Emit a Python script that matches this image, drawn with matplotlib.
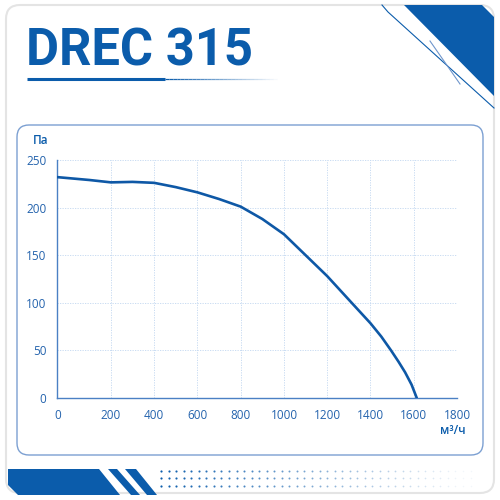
import matplotlib.pyplot as plt
import numpy as np
from matplotlib.patches import FancyBboxPatch, Polygon

# fan curve (x in m3/h, y in Pa)
flow = [-48, 100, 200, 300, 400, 500, 600, 700, 800, 900, 1000,
        1100, 1200, 1313, 1400, 1450, 1495, 1530, 1560, 1590, 1614]
pressure = [232, 229, 226.5, 227, 226, 221.5, 216, 209, 201, 188, 172,
            150, 128, 100, 78.5, 64.5, 50, 38, 27, 14, 0]

x_ticks = [-48, 200, 400, 600, 800, 1000, 1200, 1400, 1600, 1800]
x_labels = ['0', '200', '400', '600', '800', '1000', '1200', '1400', '1600', '1800']
y_ticks = [0, 50, 100, 150, 200, 250]

blue = '#0b5cab'
grid_blue = '#c2d7f0'
axis_blue = '#4b80c4'
label_blue = '#2463ad'

fig = plt.figure(figsize=(5, 5), dpi=100)
fig.patch.set_facecolor('white')

# decoration layer in pixel coordinates
deco = fig.add_axes([0, 0, 1, 1])
deco.set_xlim(0, 500)
deco.set_ylim(500, 0)
deco.axis('off')

card = FancyBboxPatch((6, 5), 488, 488, boxstyle='round,pad=0,rounding_size=14',
                      fc='white', ec='#e4e4e4', lw=1.5)
deco.add_patch(card)

inner = FancyBboxPatch((17, 125), 466, 330, boxstyle='round,pad=0,rounding_size=12',
                       fc='white', ec='#7ca0d2', lw=1.0)
deco.add_patch(inner)

# top right triangle and lines
deco.add_patch(Polygon([(404, 5), (482, 5), (494, 17), (494, 96)], closed=True,
                       fc=blue, ec='none'))
deco.plot([382, 388, 494], [5, 12, 108], color=blue, lw=0.8)
deco.plot([430, 460], [41, 84], color='#6f96cc', lw=0.8)

# bottom left shape and stripes
deco.add_patch(Polygon([(8, 469), (99, 469), (120, 495), (18, 495), (8, 485)],
                       closed=True, fc=blue, ec='none'))
deco.add_patch(Polygon([(108, 469), (117, 469), (140, 495), (131, 495)],
                       closed=True, fc=blue, ec='none'))
deco.add_patch(Polygon([(125, 469), (136, 469), (157, 495), (147, 495)],
                       closed=True, fc=blue, ec='none'))

# fading dot rows
n_dots = 42
dx = np.arange(n_dots) * 7.55 + 161
for row_y in [470.7, 478.3, 486]:
    for i, xx in enumerate(dx):
        a = max(0.05, 1 - i / n_dots)
        deco.scatter(xx, row_y, s=2.5 * (0.5 + 0.5 * a), color=blue, alpha=a, lw=0)

# title and underline
deco.text(26, 65, 'DREC 315', fontsize=36.5, fontweight='bold', family='Roboto',
          color=blue, va='baseline', ha='left')
deco.plot([27, 165], [79.3, 79.3], color=blue, lw=2.2, solid_capstyle='butt')
xs = np.linspace(165, 277, 30)
for i in range(len(xs) - 1):
    deco.plot(xs[i:i + 2], [79.3, 79.3], color=blue, lw=0.9,
              alpha=1 - i / (len(xs) - 1), solid_capstyle='butt')

deco.text(33, 141, 'Па', fontsize=8.5, color=blue, family='Open Sans',
          fontweight='semibold', va='center', ha='left')
deco.text(466, 431, 'м³/ч', fontsize=8.5, color=blue, family='Open Sans',
          fontweight='semibold', va='center', ha='right')

# main chart
ax = fig.add_axes([57.3 / 500, 1 - 398 / 500, (457 - 57.3) / 500, (398 - 160) / 500])
ax.set_facecolor('none')
ax.plot(flow, pressure, color='#0e58a6', lw=1.9, solid_capstyle='round',
        solid_joinstyle='round', zorder=3)
ax.set_xlim(-48, 1800)
ax.set_ylim(0, 250)
ax.set_xticks(x_ticks)
ax.set_xticklabels(x_labels)
ax.set_yticks(y_ticks)
for s in ['top', 'right']:
    ax.spines[s].set_visible(False)
for s in ['left', 'bottom']:
    ax.spines[s].set_color(axis_blue)
    ax.spines[s].set_linewidth(1.0)
ax.grid(True, color=grid_blue, ls=(0, (1.5, 1.5)), lw=0.6)
ax.tick_params(length=0, pad=8, labelsize=8.5, labelcolor=label_blue)
for lab in ax.get_xticklabels() + ax.get_yticklabels():
    lab.set_family('Open Sans')

fig.savefig('out.png', dpi=100)
